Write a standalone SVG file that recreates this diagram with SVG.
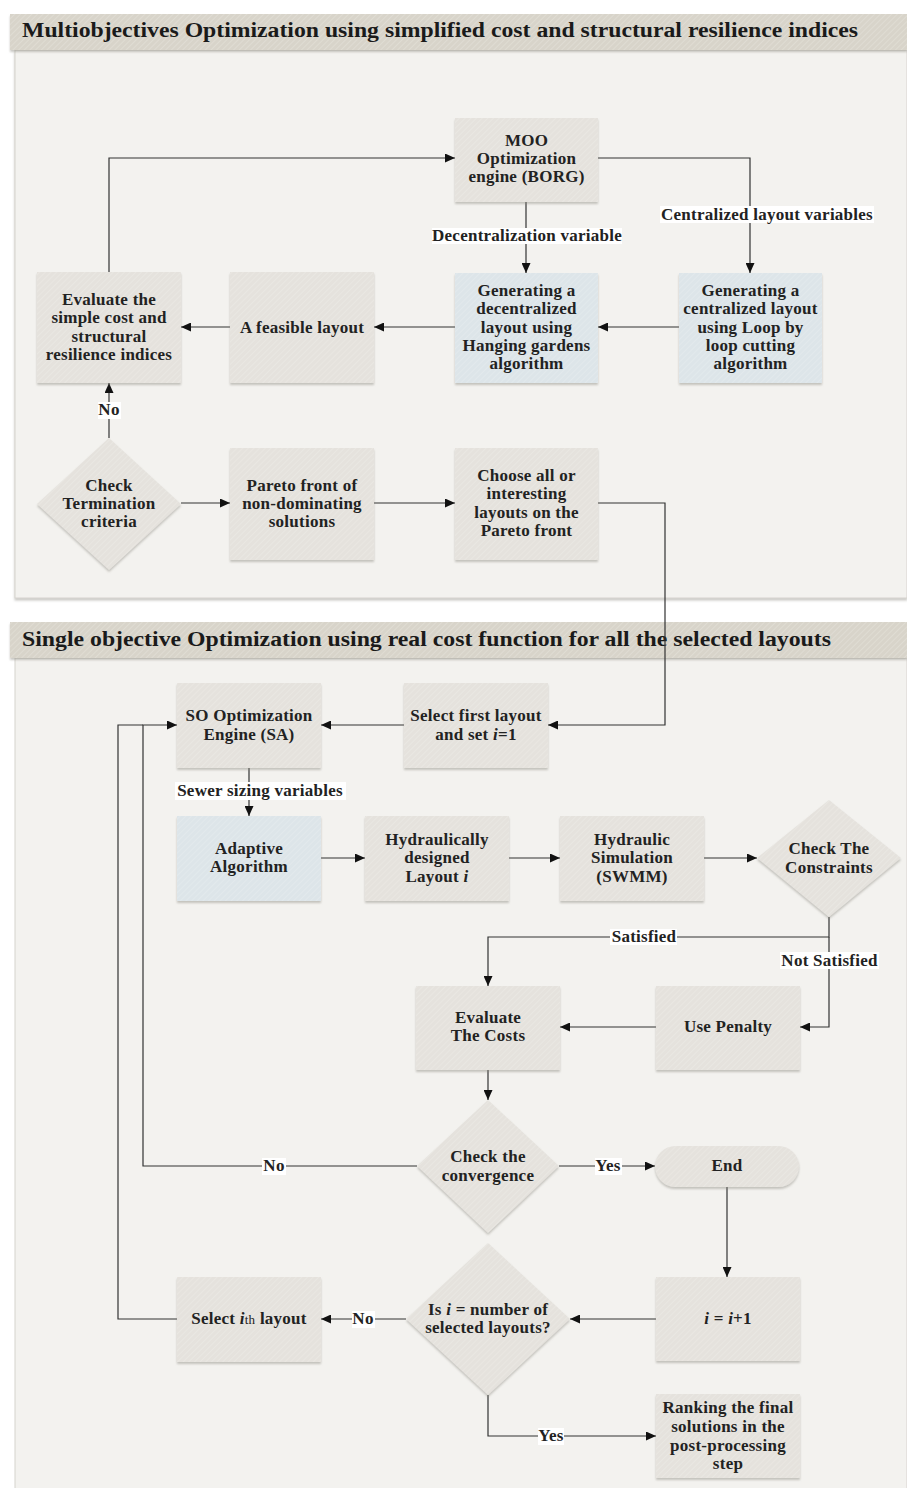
<svg xmlns="http://www.w3.org/2000/svg" width="907" height="1488" viewBox="0 0 907 1488">
<style>
.t{font-family:"Liberation Serif","Times New Roman",serif;font-weight:bold;font-size:17px;letter-spacing:0.25px;fill:#222;text-anchor:middle}
.h{font-family:"Liberation Serif","Times New Roman",serif;font-weight:bold;font-size:20px;fill:#1a1a1a}
.n{fill:url(#hg);filter:url(#sh)}
.b{fill:url(#hb);filter:url(#sh)}
.c{fill:none;stroke:#333;stroke-width:1.2}
.a{marker-end:url(#ar)}
.lb{fill:#fff}
.it{font-style:italic}
</style>
<defs>
<pattern id="hg" width="4" height="4" patternUnits="userSpaceOnUse" patternTransform="rotate(45)">
<rect width="4" height="4" fill="#e5e2dd"/><line x1="0" y1="0" x2="0" y2="4" stroke="#ebe9e4" stroke-width="1.5"/>
</pattern>
<pattern id="hb" width="4" height="4" patternUnits="userSpaceOnUse" patternTransform="rotate(45)">
<rect width="4" height="4" fill="#dde5e9"/><line x1="0" y1="0" x2="0" y2="4" stroke="#e4ebee" stroke-width="1.5"/>
</pattern>
<pattern id="hh" width="4" height="4" patternUnits="userSpaceOnUse" patternTransform="rotate(45)">
<rect width="4" height="4" fill="#d8d4ca"/><line x1="0" y1="0" x2="0" y2="4" stroke="#e2dfd7" stroke-width="1.5"/>
</pattern>
<filter id="sh" x="-10%" y="-10%" width="120%" height="125%">
<feDropShadow dx="0" dy="2" stdDeviation="1" flood-color="#8a877f" flood-opacity="0.45"/>
</filter>
<marker id="ar" markerUnits="userSpaceOnUse" markerWidth="10" markerHeight="9" refX="10" refY="4.5" orient="auto">
<path d="M0,0 L10,4.5 L0,9 z" fill="#111"/>
</marker>
</defs>
<rect width="907" height="1488" fill="#fff"/>
<!-- Section 1 -->
<g id="panel1">
<rect x="15" y="50" width="892" height="548" fill="#f3f2ef" stroke="#d6d3ce" stroke-width="1" filter="url(#sh)"/>
<rect x="10" y="14" width="897" height="36" fill="url(#hh)" filter="url(#sh)"/>
<text class="h" x="22" y="37" textLength="836" lengthAdjust="spacingAndGlyphs">Multiobjectives Optimization using simplified cost and structural resilience indices</text>
</g>
<!-- Section 2 -->
<g id="panel2">
<rect x="15" y="658" width="892" height="832" fill="#f3f2ef" stroke="#d6d3ce" stroke-width="1"/>
<rect x="10" y="622" width="897" height="36" fill="url(#hh)" filter="url(#sh)"/>
<text class="h" x="22" y="646" textLength="809" lengthAdjust="spacingAndGlyphs">Single objective Optimization using real cost function for all the selected layouts</text>
</g>

<g id="connectors">
<path class="c a" d="M109,272 V158 H455"/>
<path class="c a" d="M598,158 H750 V273"/>
<path class="c a" d="M526,202 V273"/>
<path class="c a" d="M679,327 H598"/>
<path class="c a" d="M455,327 H374"/>
<path class="c a" d="M230,327 H181"/>
<path class="c a" d="M109,438 V383"/>
<path class="c a" d="M181,503 H230"/>
<path class="c a" d="M374,503 H455"/>
<path class="c a" d="M598,503 H665 V725 H548"/>
<path class="c a" d="M404,725 H321"/>
<path class="c a" d="M249,768 V816"/>
<path class="c a" d="M321,858 H365"/>
<path class="c a" d="M509,858 H560"/>
<path class="c a" d="M704,858 H757"/>
<path class="c a" d="M829,917 V937 H488 V986"/>
<path class="c a" d="M829,937 V1027 H800"/>
<path class="c a" d="M656,1027 H560"/>
<path class="c a" d="M488,1070 V1100"/>
<path class="c a" d="M559,1166 H655"/>
<path class="c a" d="M417,1166 H143 V725 H177"/>
<path class="c" d="M177,1319 H118 V725 H143"/>
<path class="c a" d="M727,1187 V1277"/>
<path class="c a" d="M656,1319 H570"/>
<path class="c a" d="M406,1319 H321"/>
<path class="c a" d="M488,1395 V1436 H656"/>
<!-- labels -->
<rect class="lb" x="660" y="206" width="214" height="17"/>
<text class="t" x="767" y="220">Centralized layout variables</text>
<rect class="lb" x="432" y="228" width="190" height="16"/>
<text class="t" x="527" y="241">Decentralization variable</text>
<rect class="lb" x="98" y="402" width="23" height="17"/>
<text class="t" x="109" y="415">No</text>
<rect class="lb" x="175" y="782" width="171" height="18"/>
<text class="t" x="260" y="796">Sewer sizing variables</text>
<rect class="lb" x="610" y="929" width="67" height="16"/>
<text class="t" x="644" y="942">Satisfied</text>
<rect class="lb" x="780" y="952" width="99" height="17"/>
<text class="t" x="829.5" y="966">Not Satisfied</text>
<rect class="lb" x="595" y="1158" width="27" height="17"/>
<text class="t" x="608" y="1171">Yes</text>
<rect class="lb" x="262" y="1158" width="24" height="17"/>
<text class="t" x="274" y="1171">No</text>
<rect class="lb" x="352" y="1311" width="23" height="17"/>
<text class="t" x="363" y="1324">No</text>
<rect class="lb" x="538" y="1428" width="26" height="17"/>
<text class="t" x="551" y="1441">Yes</text>
</g>

<g id="moo"><rect class="n" x="455" y="118" width="143" height="84"/>
<text class="t" x="526.5" y="146">MOO</text><text class="t" x="526.5" y="164">Optimization</text><text class="t" x="526.5" y="182">engine (BORG)</text></g>
<g id="decentral"><rect class="b" x="455" y="273" width="143" height="110"/>
<text class="t" x="526.5" y="296">Generating a</text><text class="t" x="526.5" y="314">decentralized</text><text class="t" x="526.5" y="333">layout using</text><text class="t" x="526.5" y="351">Hanging gardens</text><text class="t" x="526.5" y="369">algorithm</text></g>
<g id="central"><rect class="b" x="679" y="273" width="143" height="110"/>
<text class="t" x="750.5" y="296">Generating a</text><text class="t" x="750.5" y="314">centralized layout</text><text class="t" x="750.5" y="333">using Loop by</text><text class="t" x="750.5" y="351">loop cutting</text><text class="t" x="750.5" y="369">algorithm</text></g>
<g id="feasible"><rect class="n" x="230" y="272" width="144" height="111"/>
<text class="t" x="302" y="333">A feasible layout</text></g>
<g id="evaluate"><rect class="n" x="37" y="272" width="144" height="111"/>
<text class="t" x="109" y="305">Evaluate the</text><text class="t" x="109" y="323">simple cost and</text><text class="t" x="109" y="342">structural</text><text class="t" x="109" y="360">resilience indices</text></g>
<g id="termination"><polygon class="n" points="109,438 181,504 109,570 37,504"/>
<text class="t" x="109" y="491">Check</text><text class="t" x="109" y="509">Termination</text><text class="t" x="109" y="527">criteria</text></g>
<g id="pareto"><rect class="n" x="230" y="448" width="144" height="112"/>
<text class="t" x="302" y="491">Pareto front of</text><text class="t" x="302" y="509">non-dominating</text><text class="t" x="302" y="527">solutions</text></g>
<g id="choose"><rect class="n" x="455" y="448" width="143" height="112"/>
<text class="t" x="526.5" y="481">Choose all or</text><text class="t" x="526.5" y="499">interesting</text><text class="t" x="526.5" y="518">layouts on the</text><text class="t" x="526.5" y="536">Pareto front</text></g>

<g id="so"><rect class="n" x="177" y="683" width="144" height="85"/>
<text class="t" x="249" y="721">SO Optimization</text><text class="t" x="249" y="740">Engine (SA)</text></g>
<g id="selectfirst"><rect class="n" x="404" y="683" width="144" height="85"/>
<text class="t" x="476" y="721">Select first layout</text><text class="t" x="476" y="740">and set <tspan class="it">i</tspan>=1</text></g>
<g id="adaptive"><rect class="b" x="177" y="816" width="144" height="85"/>
<text class="t" x="249" y="854">Adaptive</text><text class="t" x="249" y="872">Algorithm</text></g>
<g id="hydesign"><rect class="n" x="365" y="816" width="144" height="85"/>
<text class="t" x="437" y="845">Hydraulically</text><text class="t" x="437" y="863">designed</text><text class="t" x="437" y="882">Layout <tspan class="it">i</tspan></text></g>
<g id="hysim"><rect class="n" x="560" y="816" width="144" height="85"/>
<text class="t" x="632" y="845">Hydraulic</text><text class="t" x="632" y="863">Simulation</text><text class="t" x="632" y="882">(SWMM)</text></g>
<g id="constraints"><polygon class="n" points="829,800 901,858 829,917 757,858"/>
<text class="t" x="829" y="854">Check The</text><text class="t" x="829" y="873">Constraints</text></g>
<g id="penalty"><rect class="n" x="656" y="986" width="144" height="84"/>
<text class="t" x="728" y="1032">Use Penalty</text></g>
<g id="evalcost"><rect class="n" x="416" y="986" width="144" height="84"/>
<text class="t" x="488" y="1023">Evaluate</text><text class="t" x="488" y="1041">The Costs</text></g>
<g id="convergence"><polygon class="n" points="488,1100 559,1166 488,1233 417,1166"/>
<text class="t" x="488" y="1162">Check the</text><text class="t" x="488" y="1181">convergence</text></g>
<g id="end"><rect class="n" x="655" y="1146" width="144" height="41" rx="20.5"/>
<text class="t" x="727" y="1171">End</text></g>
<g id="incr"><rect class="n" x="656" y="1277" width="144" height="84"/>
<text class="t" x="728" y="1324"><tspan class="it">i</tspan> = <tspan class="it">i</tspan>+1</text></g>
<g id="isnum"><polygon class="n" points="488,1243 570,1319 488,1395 406,1319"/>
<text class="t" x="488" y="1315">Is <tspan class="it">i</tspan> = number of</text><text class="t" x="488" y="1333">selected layouts?</text></g>
<g id="selectith"><rect class="n" x="177" y="1277" width="144" height="85"/>
<text class="t" x="249" y="1324">Select <tspan class="it">i</tspan><tspan font-weight="normal" font-size="13">th</tspan> layout</text></g>
<g id="ranking"><rect class="n" x="656" y="1394" width="144" height="84"/>
<text class="t" x="728" y="1413">Ranking the final</text><text class="t" x="728" y="1432">solutions in the</text><text class="t" x="728" y="1451">post-processing</text><text class="t" x="728" y="1469">step</text></g>
</svg>
